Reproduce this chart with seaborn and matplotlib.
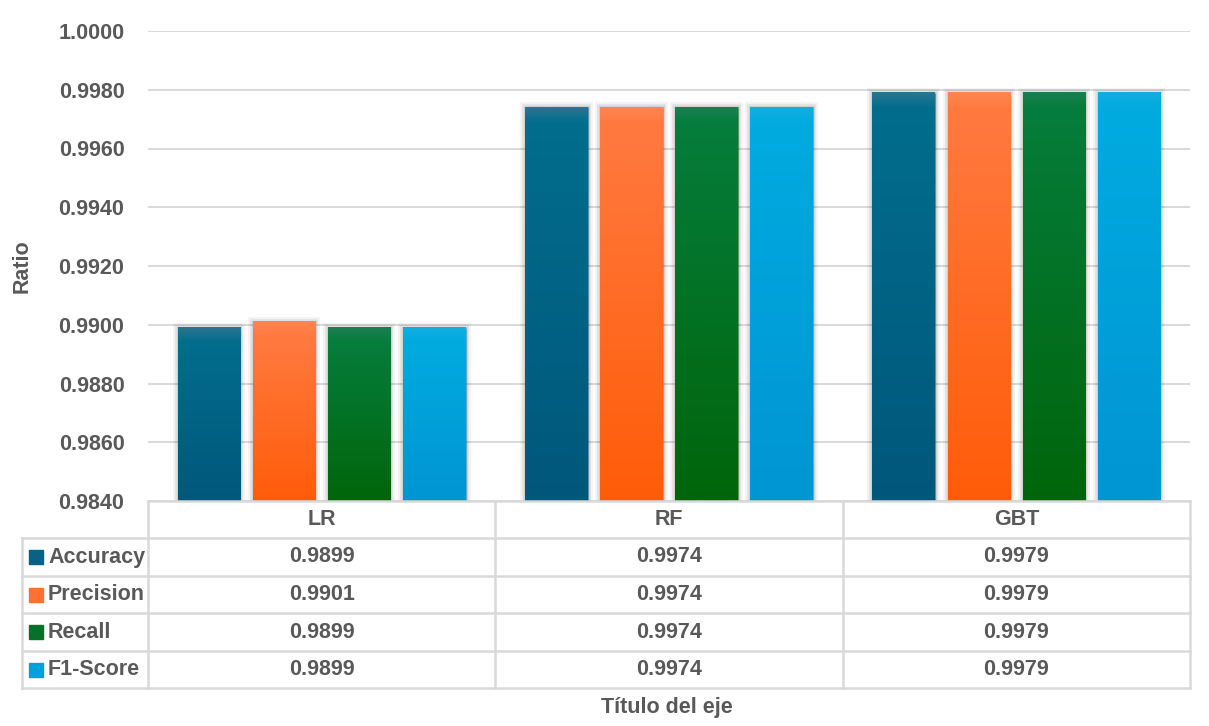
import numpy as np
import pandas as pd
import matplotlib
matplotlib.use("Agg")
import matplotlib.pyplot as plt
import matplotlib.patheffects as pe
from matplotlib.colors import LinearSegmentedColormap
from matplotlib.transforms import blended_transform_factory
import seaborn as sns

# ---------------- data ----------------
models = ["LR", "RF", "GBT"]
metrics = ["Accuracy", "Precision", "Recall", "F1-Score"]
accuracy = [0.9899, 0.9974, 0.9979]
precision = [0.9901, 0.9974, 0.9979]
recall = [0.9899, 0.9974, 0.9979]
f1_score = [0.9899, 0.9974, 0.9979]
y_ticks = [0.9840, 0.9860, 0.9880, 0.9900, 0.9920, 0.9940, 0.9960, 0.9980, 1.0000]
y_label = "Ratio"
x_label = "Título del eje"

series = [accuracy, precision, recall, f1_score]
top_colors = ["#2A7592", "#FF8552", "#1A8050", "#12AEE2"]
near_colors = ["#026D8D", "#FF7A40", "#057D3C", "#00ABE0"]
bot_colors = ["#00577C", "#FF5C08", "#00650A", "#0095D3"]
key_colors = ["#0A6185", "#FF7033", "#06712A", "#00A0DA"]

df = pd.DataFrame({
    "Model": [m for m in models for _ in metrics],
    "Metric": [k for _ in models for k in metrics],
    "Value": [series[j][i] for i in range(len(models)) for j in range(len(metrics))],
})

sns.set_theme(style="white")
plt.rcParams["font.family"] = ["Liberation Sans", "DejaVu Sans"]
plt.rcParams["font.weight"] = "bold"
TXT = "#595959"
GRID = "#D9D9D9"
FS = 15.5

W, H = 1209, 726
fig = plt.figure(figsize=(W / 100, H / 100), dpi=100)
fig.patch.set_facecolor("white")
ax = fig.add_axes([148 / W, 1 - 501 / H, (1190 - 148) / W, (501 - 31) / H])

sns.barplot(data=df, x="Model", y="Value", hue="Metric", order=models,
            hue_order=metrics, palette=bot_colors, width=0.865, gap=0.17,
            legend=False, ax=ax, zorder=3, saturation=1)

ymin, ymax = y_ticks[0], y_ticks[-1]
ax.set_xlim(-0.5, len(models) - 0.5)
ax.set_ylim(ymin, ymax)

# gradient fill + soft shadow for each bar
grad = np.linspace(0, 1, 512).reshape(-1, 1)
band = 0.0005
for j, cont in enumerate(ax.containers):
    for bar in cont:
        bar.set_edgecolor("none")
        bar.set_path_effects([
            pe.Stroke(linewidth=7, foreground=(0, 0, 0, 0.05)),
            pe.Stroke(linewidth=4, foreground=(0, 0, 0, 0.07)),
            pe.Stroke(linewidth=2, foreground=(0, 0, 0, 0.08)),
            pe.Normal(),
        ])
        x0, w = bar.get_x(), bar.get_width()
        top = bar.get_y() + bar.get_height()
        frac = 1 - band / (top - ymin)
        cmap = LinearSegmentedColormap.from_list(
            f"g{j}", [(0, bot_colors[j]), (frac, near_colors[j]), (1, top_colors[j])])
        ax.imshow(grad, extent=[x0, x0 + w, ymin, top], origin="lower",
                  aspect="auto", cmap=cmap, zorder=4, interpolation="bilinear")
ax.set_xlim(-0.5, len(models) - 0.5)
ax.set_ylim(ymin, ymax)

for s in ax.spines.values():
    s.set_visible(False)
ax.set_yticks(y_ticks)
ax.set_yticklabels([f"{v:.4f}" for v in y_ticks], fontsize=FS, color=TXT, fontweight="bold")
ax.tick_params(axis="y", length=0, pad=17)
ax.set_xticks([])
ax.set_xlabel("")
ax.set_ylabel("")
ax.yaxis.grid(True, color=GRID, linewidth=1.4, zorder=0)
ax.set_axisbelow(True)

# ---------------- data table ----------------
tr = blended_transform_factory(ax.transData, ax.transAxes)
ax_h = 501 - 31
def ya(py):
    return (501 - py) / ax_h
cat_px = (1190 - 148) / len(models)
def xd(px):
    return -0.5 + (px - 148) / cat_px

rows_px = [501, 538, 576, 613, 651, 688]
rows = [ya(p) for p in rows_px]
xl = xd(22)
xr = len(models) - 0.5
lk = dict(color=GRID, linewidth=1.8, transform=tr, clip_on=False, zorder=5,
          solid_capstyle="projecting")
ax.plot([-0.5, xr], [rows[0], rows[0]], **lk)
for r in rows[1:]:
    ax.plot([xl, xr], [r, r], **lk)
ax.plot([xl, xl], [rows[1], rows[-1]], **lk)
for i in range(len(models) + 1):
    xv = -0.5 + i
    ax.plot([xv, xv], [rows[0], rows[-1]], **lk)

for i, m in enumerate(models):
    ax.text(i, (rows[0] + rows[1]) / 2, m, transform=tr, ha="center", va="center",
            fontsize=FS, color=TXT, fontweight="bold", clip_on=False)
for j, k in enumerate(metrics):
    yc = (rows[j + 1] + rows[j + 2]) / 2
    ax.plot([xd(36)], [yc], marker="s", markersize=10.5, color=key_colors[j],
            transform=tr, clip_on=False, linestyle="none")
    ax.text(xd(48), yc, k, transform=tr, ha="left", va="center",
            fontsize=FS, color=TXT, fontweight="bold", clip_on=False)
    for i in range(len(models)):
        ax.text(i, yc, f"{series[j][i]:.4f}", transform=tr, ha="center", va="center",
                fontsize=FS, color=TXT, fontweight="bold", clip_on=False)

fig.text(22 / W, 1 - 266 / H, y_label, rotation=90, ha="center", va="center",
         fontsize=FS, color=TXT, fontweight="bold")
fig.text(667 / W, 1 - 707 / H, x_label, ha="center", va="center",
         fontsize=FS, color=TXT, fontweight="bold")

fig.savefig("out.png", dpi=100, facecolor="white")
